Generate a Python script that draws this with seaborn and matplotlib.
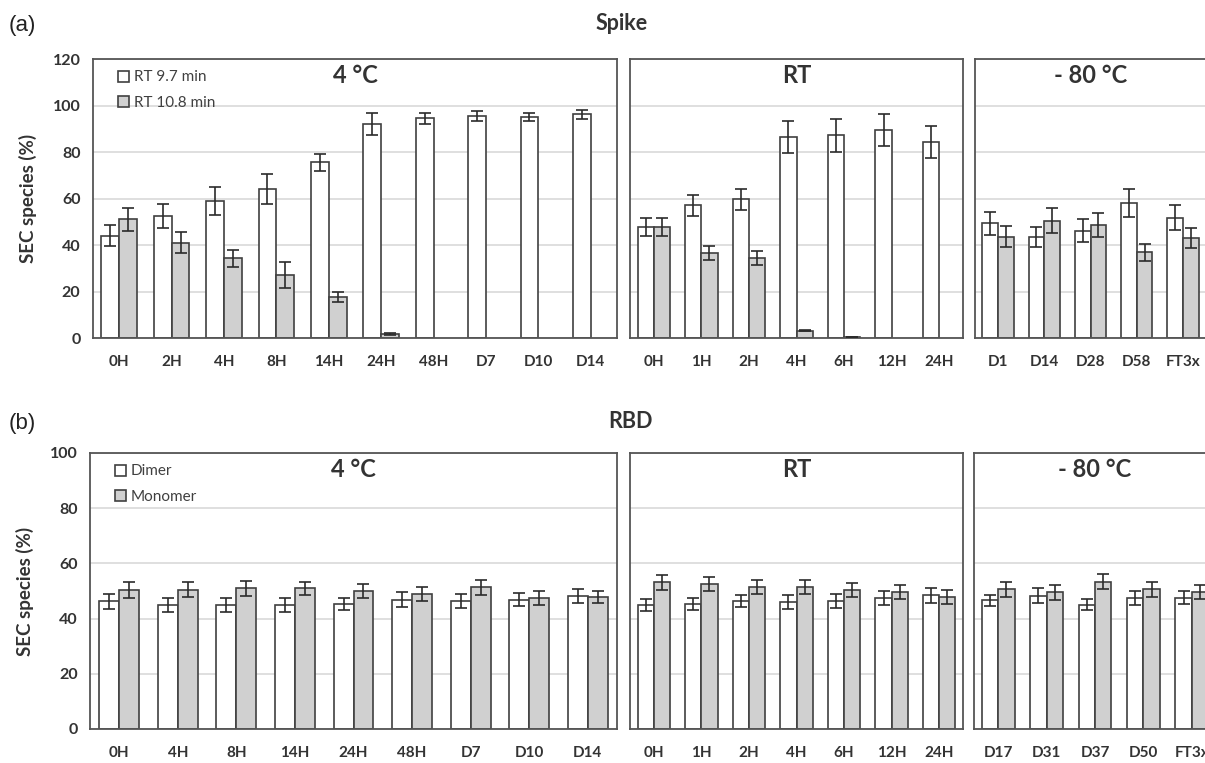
import numpy as np
import pandas as pd
import matplotlib
matplotlib.use('Agg')
import matplotlib.pyplot as plt
from matplotlib.container import BarContainer
import seaborn as sns

# ---- data ----
spike_4c_times = ['0H', '2H', '4H', '8H', '14H', '24H', '48H', 'D7', 'D10', 'D14']
spike_4c_a = [44.0, 52.5, 59.0, 64.0, 75.5, 92.0, 94.5, 95.5, 95.0, 96.2]
spike_4c_a_err = [4.5, 5.2, 6.0, 6.5, 3.7, 4.7, 2.3, 2.0, 1.8, 1.9]
spike_4c_b = [51.0, 41.0, 34.3, 27.0, 17.6, 1.7, np.nan, np.nan, np.nan, np.nan]
spike_4c_b_err = [5.0, 4.4, 3.6, 5.6, 2.0, 0.3, 0, 0, 0, 0]

spike_rt_times = ['0H', '1H', '2H', '4H', '6H', '12H', '24H']
spike_rt_a = [47.7, 57.0, 59.6, 86.6, 87.1, 89.4, 84.4]
spike_rt_a_err = [4.0, 4.7, 4.6, 6.9, 7.0, 7.0, 6.8]
spike_rt_b = [47.7, 36.7, 34.3, 3.1, 0.6, np.nan, np.nan]
spike_rt_b_err = [4.0, 3.0, 3.0, 0.3, 0, 0, 0]

spike_m80_times = ['D1', 'D14', 'D28', 'D58', 'FT3x']
spike_m80_a = [49.4, 43.6, 46.2, 58.0, 51.8]
spike_m80_a_err = [4.9, 4.3, 5.0, 6.0, 5.2]
spike_m80_b = [43.6, 50.4, 48.6, 36.8, 43.0]
spike_m80_b_err = [4.5, 5.3, 5.0, 3.7, 4.2]

rbd_4c_times = ['0H', '4H', '8H', '14H', '24H', '48H', 'D7', 'D10', 'D14']
rbd_4c_dimer = [46.3, 44.8, 44.8, 44.8, 45.3, 46.9, 46.3, 46.9, 48.3]
rbd_4c_dimer_err = [2.7, 2.5, 2.5, 2.5, 2.3, 2.7, 2.5, 2.3, 2.6]
rbd_4c_mono = [50.4, 50.4, 51.0, 51.0, 50.0, 48.9, 51.4, 47.4, 47.8]
rbd_4c_mono_err = [2.8, 2.7, 2.7, 2.3, 2.7, 2.6, 2.7, 2.6, 2.3]

rbd_rt_times = ['0H', '1H', '2H', '4H', '6H', '12H', '24H']
rbd_rt_dimer = [44.9, 45.4, 46.4, 45.9, 46.4, 47.5, 48.4]
rbd_rt_dimer_err = [2.1, 2.2, 2.3, 2.6, 2.5, 2.6, 2.6]
rbd_rt_mono = [53.1, 52.6, 51.5, 51.5, 50.4, 49.5, 47.9]
rbd_rt_mono_err = [2.6, 2.6, 2.6, 2.6, 2.6, 2.5, 2.5]

rbd_m80_times = ['D17', 'D31', 'D37', 'D50', 'FT3x']
rbd_m80_dimer = [46.6, 48.3, 45.1, 47.6, 47.6]
rbd_m80_dimer_err = [2.1, 2.7, 2.0, 2.5, 2.4]
rbd_m80_mono = [50.7, 49.6, 53.3, 50.7, 49.6]
rbd_m80_mono_err = [2.7, 2.7, 2.7, 2.7, 2.4]

spike_species = ['RT 9.7 min', 'RT 10.8 min']
rbd_species = ['Dimer', 'Monomer']

W, H = 1205, 763
EDGE = '#404040'
GREY = '#D0D0D0'
TXT = '#404040'


def box(x0, y0, x1, y1):
    return [x0 / W, 1 - y1 / H, (x1 - x0) / W, (y1 - y0) / H]


def panel(fig, rect, times, a, a_err, b, b_err, species, title, ymax, first):
    ax = fig.add_axes(rect)
    df = pd.DataFrame({
        'time': times * 2,
        'value': list(a) + list(b),
        'species': [species[0]] * len(times) + [species[1]] * len(times),
    }).dropna()
    sns.barplot(data=df, x='time', y='value', hue='species', order=times,
                hue_order=species, palette=['white', GREY], edgecolor=EDGE,
                linewidth=1.2, width=0.68, errorbar=None, ax=ax, legend=first)
    errs = [a_err, b_err]
    bar_conts = [c for c in ax.containers if isinstance(c, BarContainer)]
    for k, cont in enumerate(bar_conts):
        for bar in cont:
            cx = bar.get_x() + bar.get_width() / 2
            idx = int(round(cx))
            h = bar.get_height()
            if np.isnan(h):
                continue
            ax.errorbar(cx, h, yerr=errs[k][idx], fmt='none', ecolor='#2b2b2b',
                        elinewidth=1.2, capsize=4, capthick=1.2, zorder=5)
    ax.set_ylim(0, ymax)
    ax.set_xlim(-0.5, len(times) - 0.5)
    ax.set_yticks(np.arange(0, ymax + 1, 20))
    ax.yaxis.grid(True, color='#D9D9D9', linewidth=1.2)
    ax.set_axisbelow(True)
    ax.set_xlabel('')
    ax.set_ylabel('')
    for s in ax.spines.values():
        s.set_visible(True)
        s.set_color('#555555')
        s.set_linewidth(1.3)
    ax.tick_params(axis='x', length=0, pad=12, labelsize=11, labelcolor='#333333')
    for t in ax.get_xticklabels():
        t.set_fontweight('bold')
    if first:
        ax.tick_params(axis='y', length=5, width=1.2, color='#555555',
                       labelsize=11.5, labelcolor='#333333', pad=4)
        for t in ax.get_yticklabels():
            t.set_fontweight('bold')
        ax.legend(loc='upper left', bbox_to_anchor=(0.025, 1.0), frameon=False,
                  fontsize=11, handlelength=0.75, handleheight=0.75,
                  handletextpad=0.3, labelspacing=0.75, borderaxespad=0.35,
                  labelcolor=TXT)
    else:
        ax.tick_params(axis='y', length=0, labelleft=False)
    ax.text(0.5, 0.94, title, transform=ax.transAxes, ha='center', va='center',
            fontsize=17, fontweight='bold', color='#333333')
    return ax


sns.set_style('white')
plt.rcParams['font.family'] = ['Lato', 'DejaVu Sans']

fig = plt.figure(figsize=(W / 100, H / 100), dpi=100)

panel(fig, box(93, 59, 617, 338), spike_4c_times, spike_4c_a, spike_4c_a_err,
      spike_4c_b, spike_4c_b_err, spike_species, '4 °C', 120, True)
panel(fig, box(630, 59, 963, 338), spike_rt_times, spike_rt_a, spike_rt_a_err,
      spike_rt_b, spike_rt_b_err, spike_species, 'RT', 120, False)
panel(fig, box(975, 59, 1206, 338), spike_m80_times, spike_m80_a, spike_m80_a_err,
      spike_m80_b, spike_m80_b_err, spike_species, '- 80 °C', 120, False)

panel(fig, box(90, 453, 617, 729), rbd_4c_times, rbd_4c_dimer, rbd_4c_dimer_err,
      rbd_4c_mono, rbd_4c_mono_err, rbd_species, '4 °C', 100, True)
panel(fig, box(630, 453, 963, 729), rbd_rt_times, rbd_rt_dimer, rbd_rt_dimer_err,
      rbd_rt_mono, rbd_rt_mono_err, rbd_species, 'RT', 100, False)
panel(fig, box(974, 453, 1216, 729), rbd_m80_times, rbd_m80_dimer, rbd_m80_dimer_err,
      rbd_m80_mono, rbd_m80_mono_err, rbd_species, '- 80 °C', 100, False)

fig.text(9 / W, 1 - 26 / H, '(a)', fontsize=16, va='center', ha='left',
         color='#222222', family=['Liberation Sans', 'DejaVu Sans'])
fig.text(622 / W, 1 - 23 / H, 'Spike', fontsize=15.5, fontweight='bold', ha='center',
         va='center', color='#333333')
fig.text(9 / W, 1 - 424 / H, '(b)', fontsize=16, va='center', ha='left',
         color='#222222', family=['Liberation Sans', 'DejaVu Sans'])
fig.text(631 / W, 1 - 421 / H, 'RBD', fontsize=15.5, fontweight='bold', ha='center',
         va='center', color='#333333')
fig.text(28 / W, 1 - 198 / H, 'SEC species (%)', rotation=90, fontsize=13.5,
         fontweight='bold', ha='center', va='center', color='#333333')
fig.text(25 / W, 1 - 591 / H, 'SEC species (%)', rotation=90, fontsize=13.5,
         fontweight='bold', ha='center', va='center', color='#333333')

fig.savefig('out.png', dpi=100)
